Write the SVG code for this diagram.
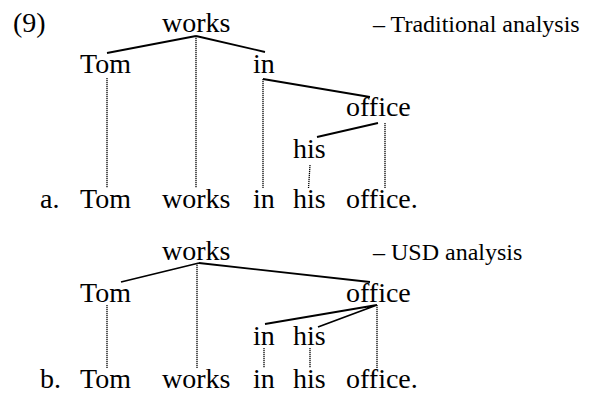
<svg xmlns="http://www.w3.org/2000/svg" width="591" height="396" viewBox="0 0 591 396">
<style>
.w{font-family:'Liberation Serif',serif;font-size:28px;fill:#000}
.lbl{font-family:'Liberation Serif',serif;font-size:24px;fill:#000}
.s{stroke:#000;stroke-width:1.8;fill:none}
.d{stroke:#000;stroke-width:1.3;stroke-dasharray:1.2 0.8;fill:none}
</style>
<rect width="591" height="396" fill="#fff"/>
<text class="w" x="13" y="32">(9)</text>
<text class="lbl" x="373" y="32">– Traditional analysis</text>
<text class="lbl" x="373" y="260">– USD analysis</text>
<g id="treeA">
<g id="a-works"><text class="w" x="162" y="32">works</text></g>
<g id="a-Tom"><text class="w" x="80" y="73">Tom</text></g>
<g id="a-in"><text class="w" x="253" y="73">in</text></g>
<g id="a-office"><text class="w" x="346" y="116">office</text></g>
<g id="a-his"><text class="w" x="293" y="158">his</text></g>
</g>
<g id="sentA">
<text class="w" x="40" y="208">a.</text>
<g id="sa-Tom"><text class="w" x="80" y="208">Tom</text></g>
<g id="sa-works"><text class="w" x="162" y="208">works</text></g>
<g id="sa-in"><text class="w" x="253" y="208">in</text></g>
<g id="sa-his"><text class="w" x="293" y="208">his</text></g>
<g id="sa-office"><text class="w" x="346" y="208">office.</text></g>
</g>
<g id="treeB">
<g id="b-works"><text class="w" x="162" y="260">works</text></g>
<g id="b-Tom"><text class="w" x="80" y="302">Tom</text></g>
<g id="b-office"><text class="w" x="346" y="302">office</text></g>
<g id="b-in"><text class="w" x="253" y="345">in</text></g>
<g id="b-his"><text class="w" x="293" y="345">his</text></g>
</g>
<g id="sentB">
<text class="w" x="40" y="388">b.</text>
<g id="sb-Tom"><text class="w" x="80" y="388">Tom</text></g>
<g id="sb-works"><text class="w" x="162" y="388">works</text></g>
<g id="sb-in"><text class="w" x="253" y="388">in</text></g>
<g id="sb-his"><text class="w" x="293" y="388">his</text></g>
<g id="sb-office"><text class="w" x="346" y="388">office.</text></g>
</g>
<g id="connectors">
<path class="s" d="M196 36L107 53M196 36L265 52M263 79L370 97M378 123L317 137"/>
<path class="d" d="M196 36V188M107 78V188M263 79V188M385 123V188M310 165L308.5 188"/>
<path class="s" d="M199 263L121 282M199 263L370 282M377 305L265 324M377 305L318 327"/>
<path class="d" d="M197 263V368M107 305V368M377 305V368M264 348V368M310 348V368"/>
</g>
</svg>
